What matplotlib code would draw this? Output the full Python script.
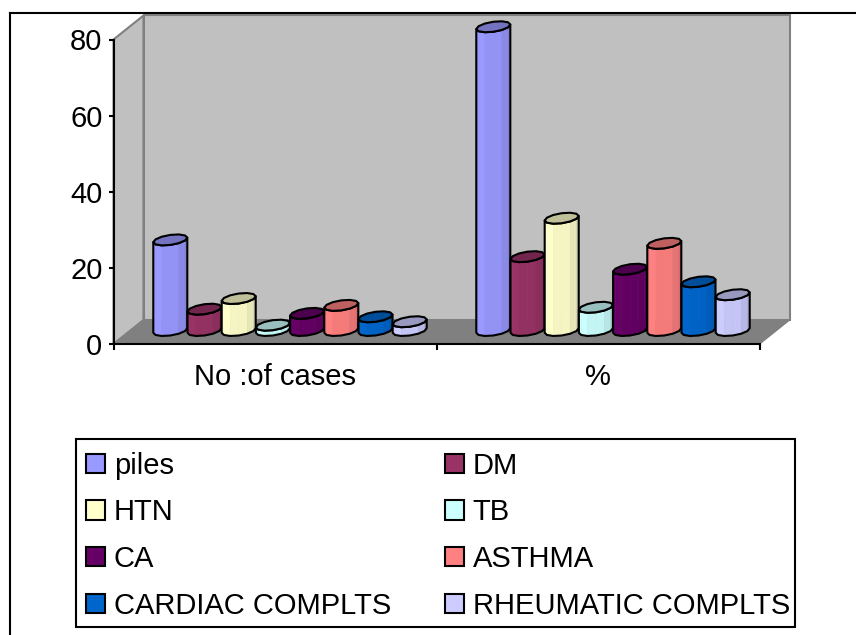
import numpy as np
import matplotlib
matplotlib.use('Agg')
import matplotlib.pyplot as plt
from matplotlib.lines import Line2D
from matplotlib.patches import Patch, Polygon, Rectangle

plt.rcParams['font.family'] = 'Liberation Sans'

categories = ['No :of cases', '%']
series = ['piles', 'DM', 'HTN', 'TB', 'CA', 'ASTHMA', 'CARDIAC COMPLTS', 'RHEUMATIC COMPLTS']
colors = ['#9999FF', '#993366', '#FFFFCC', '#CCFFFF', '#660066', '#FF8080', '#0066CC', '#CCCCFF']
cases = [23.8, 5.6, 8.4, 1.4, 4.5, 6.6, 3.6, 2.3]
percent = [79.8, 19.4, 29.5, 6.1, 16.1, 22.9, 12.8, 9.4]
y_ticks = [0, 20, 40, 60, 80]

W, H = 856, 635
fig = plt.figure(figsize=(W / 100, H / 100), dpi=100)
ax = fig.add_axes([113.5 / W, 1 - 344 / H, 646 / W, 304.5 / H])
ax.set_xlim(0, 2)
ax.set_ylim(0, 80)

# size of one pixel in data units, the 3d look is all done with offsets
px = 2 / 646
py = 80 / 304.5
wall_dx, wall_dy = 30 * px, 24 * py
depth_dx, depth_dy = 15 * px, 13.5 * py
bar_w = 34.2 / 323
pad = (1 - 8 * bar_w) / 2
font_size = 21


def shade(color, f):
    r, g, b = matplotlib.colors.to_rgb(color)
    return (r * f, g * f, b * f)


def draw_walls():
    left = [(0, 0), (0, 80), (wall_dx, 80 + wall_dy), (wall_dx, wall_dy)]
    back = [(wall_dx, wall_dy), (wall_dx, 80 + wall_dy), (2 + wall_dx, 80 + wall_dy), (2 + wall_dx, wall_dy)]
    floor = [(0, 0), (wall_dx, wall_dy), (2 + wall_dx, wall_dy), (2, 0)]
    ax.add_patch(Polygon(left, fc='#C0C0C0', ec='#808080', lw=1.5, clip_on=False, zorder=1))
    ax.add_patch(Polygon(back, fc='#C0C0C0', ec='#808080', lw=1.5, clip_on=False, zorder=1))
    ax.add_patch(Polygon(floor, fc='#808080', ec='#808080', lw=1, clip_on=False, zorder=1.5))


def draw_cylinder(cx, value, color, z):
    # slanted ellipse: half width, then the depth vector in pixels
    a, bx, by = 15.5, 7.0, 5.5
    phi = np.arctan2(bx, a)

    def ring(t, level):
        x = cx + depth_dx + (a * np.cos(t) + bx * np.sin(t)) * px
        y = level + depth_dy + by * np.sin(t) * py
        return x, y

    # lower half of the base, coarse on purpose so it looks faceted like the original
    arc = np.linspace(phi + np.pi, phi + 2 * np.pi, 7)
    factors = [1.0, 1.0, 0.96, 0.96, 0.9, 0.84]
    for k, f in enumerate(factors):
        t = arc[k:k + 2]
        xb, yb = ring(t, 0)
        xt, yt = ring(t, value)
        pts = list(zip(xb, yb)) + list(zip(xt[::-1], yt[::-1]))
        ax.add_patch(Polygon(pts, fc=shade(color, f), ec=shade(color, f), lw=0.4, clip_on=False, zorder=z))

    xb, yb = ring(arc, 0)
    xt, yt = ring(arc, value)
    pts = list(zip(xb, yb)) + list(zip(xt[::-1], yt[::-1]))
    ax.add_patch(Polygon(pts, fill=False, ec='black', lw=1.5, joinstyle='round', clip_on=False, zorder=z))

    t = np.linspace(phi, phi + 2 * np.pi, 13)
    xt, yt = ring(t, value)
    ax.add_patch(Polygon(list(zip(xt, yt)), fc=shade(color, 0.75), ec='black', lw=1.5, joinstyle='round',
                         clip_on=False, zorder=z))


draw_walls()

for c, values in enumerate([cases, percent]):
    for i, v in enumerate(values):
        draw_cylinder(c + pad + (i + 0.5) * bar_w, v, colors[i], 3 + c + i * 0.01)

ax.spines['top'].set_visible(False)
ax.spines['right'].set_visible(False)
ax.spines['left'].set_linewidth(1.5)
ax.spines['bottom'].set_linewidth(1.5)
ax.spines['left'].set_zorder(2)
ax.spines['bottom'].set_zorder(2)
ax.patch.set_visible(False)

ax.set_yticks(y_ticks)
ax.set_xticks([0, 1, 2])
ax.set_xticklabels([])
ax.set_xticks([0.5, 1.5], categories, minor=True)
ax.tick_params(axis='y', length=3.5, width=1.5, pad=4.5, labelsize=font_size)
ax.tick_params(axis='x', which='major', length=4, width=1.5)
ax.tick_params(axis='x', which='minor', length=0, pad=14, labelsize=font_size)

# legend frame drawn by hand, the legend's own padding can't be set per side
fig.add_artist(Rectangle((76 / W, 1 - 627 / H), 718.5 / W, 188 / H, transform=fig.transFigure,
                         fc='white', ec='black', lw=1.5))

# column order of the legend runs top to bottom
order = [0, 2, 4, 6, 1, 3, 5, 7]
handles = [Patch(fc=colors[i], ec='black', lw=1.5, label=series[i]) for i in order]
fig.legend(handles=handles, ncol=2, loc='lower left', bbox_to_anchor=(75.7 / W, 1 - 630 / H),
           fontsize=font_size, frameon=False,
           borderpad=0.36, labelspacing=0.635, handlelength=0.65, handleheight=0.65,
           handletextpad=0.3, columnspacing=1.84, borderaxespad=0)

# chart area frame
fig.add_artist(Line2D([10 / W, 1], [1 - 13.3 / H, 1 - 13.3 / H], color='black', lw=1.5))
fig.add_artist(Line2D([10 / W, 10 / W], [1 - 13.3 / H, 0], color='black', lw=1.5))

fig.savefig('out.png', dpi=100)
